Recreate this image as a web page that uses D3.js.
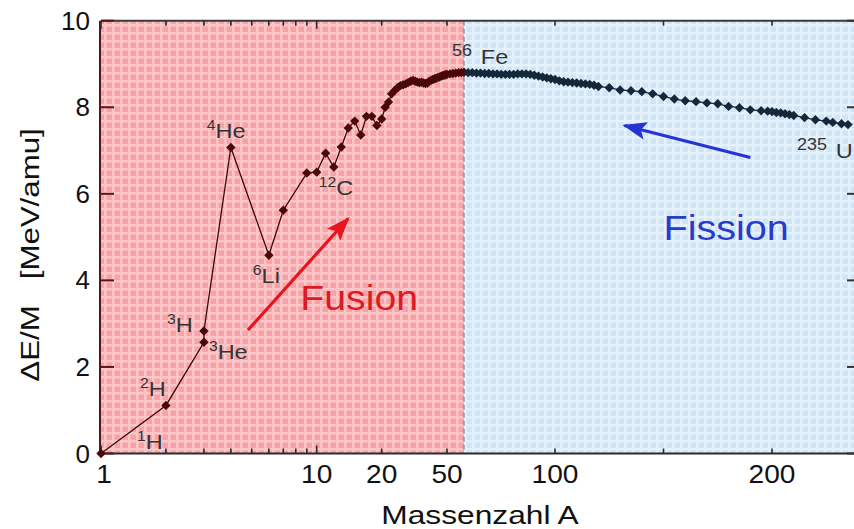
<!DOCTYPE html>
<html>
<head>
<meta charset="utf-8">
<script src="https://cdn.jsdelivr.net/npm/d3@7"></script>
<style>
  body { margin: 0; background: #fff; }
  text { font-family: "Liberation Sans", Arial, Helvetica, sans-serif; }
</style>
</head>
<body>
<div id="chart"></div>
<script>
// values (mass number A, binding energy dE/M in MeV/amu)
const massNumber = [1, 2, 3, 3, 4, 6, 7, 9, 10, 11, 12, 13, 14, 15, 16, 17, 18, 19, 20,
  21, 22, 23, 24, 25, 26, 27, 28, 29, 30, 31, 32, 33, 34, 35, 36, 37, 38, 39, 40,
  41, 42, 43, 44, 45, 46, 47, 48, 49, 50, 51, 52, 53, 54, 55, 56,
  58, 60, 62, 64, 66, 68, 70, 72, 74, 76, 78, 80, 82, 84, 86, 88, 90, 92, 94, 96, 98,
  100, 102, 104, 106, 108, 110, 112, 114, 116, 118,
  120, 125, 130, 135, 140, 145, 150, 155, 160, 165, 170, 175, 180, 185, 190, 195,
  198, 200, 202, 204, 206, 208, 210, 215, 220, 225, 228, 232, 235];
const bindingEnergy = [0, 1.11, 2.57, 2.83, 7.07, 4.58, 5.62, 6.48, 6.50, 6.94, 6.62, 7.08, 7.52, 7.68, 7.36, 7.79, 7.79, 7.58, 7.73,
  8.00, 8.12, 8.31, 8.39, 8.45, 8.50, 8.52, 8.54, 8.57, 8.60, 8.62, 8.60, 8.58, 8.57, 8.58, 8.56, 8.55, 8.56, 8.60, 8.62,
  8.64, 8.66, 8.67, 8.69, 8.70, 8.72, 8.73, 8.74, 8.75, 8.76, 8.77, 8.78, 8.79, 8.80, 8.80, 8.81,
  8.80, 8.80, 8.79, 8.79, 8.78, 8.78, 8.77, 8.77, 8.76, 8.76, 8.76, 8.76, 8.77, 8.77, 8.77, 8.76, 8.74, 8.72, 8.70, 8.68, 8.66,
  8.64, 8.61, 8.59, 8.58, 8.57, 8.56, 8.55, 8.54, 8.53, 8.51,
  8.48, 8.45, 8.40, 8.38, 8.36, 8.31, 8.25, 8.19, 8.15, 8.13, 8.10, 8.08, 8.02, 7.99, 7.94, 7.92,
  7.91, 7.90, 7.88, 7.87, 7.85, 7.83, 7.81, 7.76, 7.71, 7.68, 7.65, 7.62, 7.60];

// labelled nuclides
const labelMass   = [1, 2, 3, 3, 4, 6, 12, 56, 235];
const labelEnergy = [0, 1.11, 2.83, 2.57, 7.07, 4.58, 6.62, 8.81, 7.60];
const labelSup    = ['1', '2', '3', '3', '4', '6', '12', '56', '235'];
const labelName   = ['H', 'H', 'H', 'He', 'He', 'Li', 'C', 'Fe', 'U'];

// axis ticks
const yTicks = [0, 2, 4, 6, 8, 10];
const xMajorTicks = [1, 10, 20, 50, 100, 200];
const xMinorTicks = [2, 3, 4, 5, 6, 7, 8, 9, 150];

// iron boundary and the two arrows (in data units)
const ironMass = 56;
const fusionArrow = [[4.8, 2.85], [14, 5.43]];
const fissionArrow = [[190, 6.84], [132, 7.58]];
const fusionText = [8.4, 3.31];
const fissionText = [150, 4.93];

// layout
const width = 854, height = 529;
const plotLeft = 101, plotRight = 854, plotTop = 20.7, plotBottom = 453.5;
const labelOffsets = [[36, -5], [-26, -9], [-37, 1], [5, 17], [-24, -10], [-16, 28], [-15, 28], [-12, -8], [-51, 33]];
const SX = 1.12; // the original lettering is a bit wide

// scales: log part up to iron, linear after
const xLog = d3.scaleLog().domain([1, 10, 20, 50, ironMass]).range([plotLeft, 316.7, 381.7, 447, 464]);
const xLin = d3.scaleLinear().domain([ironMass, 100, 200, 238]).range([464, 555, 772, plotRight + 0.5]);
const x = a => a <= ironMass ? xLog(a) : xLin(a);
const y = d3.scaleLinear().domain([0, 10]).range([plotBottom, plotTop]);

const points = massNumber.map((a, i) => ({A: a, E: bindingEnergy[i]}));

const svg = d3.select('#chart').append('svg')
  .attr('width', width)
  .attr('height', height)
  .attr('viewBox', [0, 0, width, height]);

const defs = svg.append('defs');
function grid(id, base, light) {
  const p = defs.append('pattern').attr('id', id)
    .attr('patternUnits', 'userSpaceOnUse').attr('width', 8).attr('height', 8);
  p.append('rect').attr('width', 8).attr('height', 8).attr('fill', base);
  p.append('rect').attr('width', 2.5).attr('height', 8).attr('fill', light);
  p.append('rect').attr('width', 8).attr('height', 2.5).attr('fill', light);
}
grid('pink', '#f7a2a6', '#fcc6c9');
grid('blue', '#cfe4f5', '#e5f1fb');

function arrowHead(id, color) {
  defs.append('marker').attr('id', id)
    .attr('markerUnits', 'userSpaceOnUse')
    .attr('viewBox', '-24 -10 26 20')
    .attr('markerWidth', 26).attr('markerHeight', 20)
    .attr('refX', 0).attr('refY', 0)
    .attr('orient', 'auto')
    .append('path')
    .attr('d', 'M2,0 L-22,-9 L-17,0 L-22,9 Z')
    .attr('fill', color);
}
arrowHead('headRed', '#e8141e');
arrowHead('headBlue', '#2433d2');

// regions
svg.append('rect')
  .attr('x', plotLeft).attr('y', plotTop)
  .attr('width', x(ironMass) - plotLeft).attr('height', plotBottom - plotTop)
  .attr('fill', 'url(#pink)');
svg.append('rect')
  .attr('x', x(ironMass)).attr('y', plotTop)
  .attr('width', plotRight - x(ironMass)).attr('height', plotBottom - plotTop)
  .attr('fill', 'url(#blue)');

svg.append('line')
  .attr('x1', x(ironMass)).attr('x2', x(ironMass))
  .attr('y1', plotTop).attr('y2', plotBottom)
  .attr('stroke', '#777').attr('stroke-width', 1.1)
  .attr('stroke-dasharray', '5,3');

// axes lines
svg.append('line').attr('x1', plotLeft).attr('x2', plotRight).attr('y1', plotBottom).attr('y2', plotBottom)
  .attr('stroke', '#2a2a2a').attr('stroke-width', 2);
svg.append('line').attr('x1', plotLeft).attr('x2', plotRight).attr('y1', plotTop).attr('y2', plotTop)
  .attr('stroke', '#3a3a3a').attr('stroke-width', 2);
svg.append('line').attr('x1', plotLeft - 1).attr('x2', plotLeft - 1).attr('y1', plotTop).attr('y2', plotBottom + 1)
  .attr('stroke', '#5a1515').attr('stroke-width', 2);

// y ticks
svg.selectAll('.ytick').data(yTicks).join('line')
  .attr('x1', plotLeft).attr('x2', plotLeft + 13)
  .attr('y1', d => y(d)).attr('y2', d => y(d))
  .attr('stroke', '#5a1515').attr('stroke-width', 2);
svg.selectAll('.ytickR').data(yTicks).join('line')
  .attr('x1', plotRight - 7).attr('x2', plotRight)
  .attr('y1', d => y(d)).attr('y2', d => y(d))
  .attr('stroke', '#333').attr('stroke-width', 2);
svg.selectAll('.ylab').data(yTicks).join('text')
  .attr('x', plotLeft - 11).attr('y', d => y(d))
  .attr('text-anchor', 'end').attr('dominant-baseline', 'central')
  .attr('font-size', 26).attr('fill', '#111')
  .text(d => d);

// x ticks (bottom pointing up, top pointing down)
const allX = xMajorTicks.map(v => ({v, len: v <= 10 ? 8 : 5}))
  .concat(xMinorTicks.map(v => ({v, len: 5})));
svg.selectAll('.xtick').data(allX).join('line')
  .attr('x1', d => x(d.v)).attr('x2', d => x(d.v))
  .attr('y1', plotBottom).attr('y2', d => plotBottom - d.len)
  .attr('stroke', '#2a2a2a').attr('stroke-width', 1.6);
svg.selectAll('.xtickT').data(allX).join('line')
  .attr('x1', d => x(d.v)).attr('x2', d => x(d.v))
  .attr('y1', plotTop).attr('y2', d => plotTop + d.len)
  .attr('stroke', '#2a2a2a').attr('stroke-width', 1.6);
svg.selectAll('.xlab').data(xMajorTicks).join('text')
  .attr('transform', d => `translate(${x(d) + (d === 1 ? 3 : 0)},483) scale(1.08,1)`)
  .attr('text-anchor', 'middle')
  .attr('font-size', 26).attr('fill', '#111')
  .text(d => d);

// axis titles
svg.append('text')
  .attr('transform', `translate(480,524) scale(1.22,1)`)
  .attr('text-anchor', 'middle')
  .attr('font-size', 26).attr('fill', '#111')
  .text('Massenzahl A');
svg.append('text')
  .attr('transform', `translate(39,255) rotate(-90) scale(1.25,1)`)
  .attr('text-anchor', 'middle')
  .attr('font-size', 25).attr('fill', '#111')
  .attr('xml:space', 'preserve')
  .text('\u0394E/M   [MeV/amu]');

// curve
const line = d3.line().x(d => x(d.A)).y(d => y(d.E));
const fusionPts = points.filter(d => d.A <= ironMass);
const fissionPts = points.filter(d => d.A >= ironMass);
svg.append('path').datum(fusionPts).attr('d', line)
  .attr('fill', 'none').attr('stroke', '#3a0a0a').attr('stroke-width', 1.3);
svg.append('path').datum(fissionPts).attr('d', line)
  .attr('fill', 'none').attr('stroke', '#14283a').attr('stroke-width', 1.3);

const diamond = d3.symbol().type(d3.symbolSquare).size(44);
svg.selectAll('.pt').data(points).join('path')
  .attr('d', diamond)
  .attr('transform', d => `translate(${x(d.A)},${y(d.E)}) rotate(45)`)
  .attr('fill', d => d.A <= ironMass ? '#4a0909' : '#14283a');

// nuclide labels
labelMass.forEach((a, i) => {
  const [dx, dy] = labelOffsets[i];
  const t = svg.append('text')
    .attr('transform', `translate(${x(a) + dx},${y(labelEnergy[i]) + dy}) scale(${SX},1)`)
    .attr('fill', '#333');
  t.append('tspan').attr('font-size', a >= 56 ? 16 : 14).attr('dy', -8).text(labelSup[i]);
  t.append('tspan').attr('font-size', 21).attr('dy', 8)
    .attr('dx', a >= 56 ? 8 : 0).text(labelName[i]);
});

// arrows
svg.append('line')
  .attr('x1', x(fusionArrow[0][0])).attr('y1', y(fusionArrow[0][1]))
  .attr('x2', x(fusionArrow[1][0])).attr('y2', y(fusionArrow[1][1]))
  .attr('stroke', '#e8141e').attr('stroke-width', 3.2)
  .attr('marker-end', 'url(#headRed)');
svg.append('line')
  .attr('x1', x(fissionArrow[0][0])).attr('y1', y(fissionArrow[0][1]))
  .attr('x2', x(fissionArrow[1][0])).attr('y2', y(fissionArrow[1][1]))
  .attr('stroke', '#2433d2').attr('stroke-width', 3)
  .attr('marker-end', 'url(#headBlue)');

svg.append('text')
  .attr('transform', `translate(${x(fusionText[0])},${y(fusionText[1])}) scale(1.12,1)`)
  .attr('font-size', 35).attr('fill', '#dc1a22')
  .text('Fusion');
svg.append('text')
  .attr('transform', `translate(${x(fissionText[0])},${y(fissionText[1])}) scale(1.1,1)`)
  .attr('font-size', 36).attr('fill', '#2a3acb')
  .text('Fission');
</script>
</body>
</html>
